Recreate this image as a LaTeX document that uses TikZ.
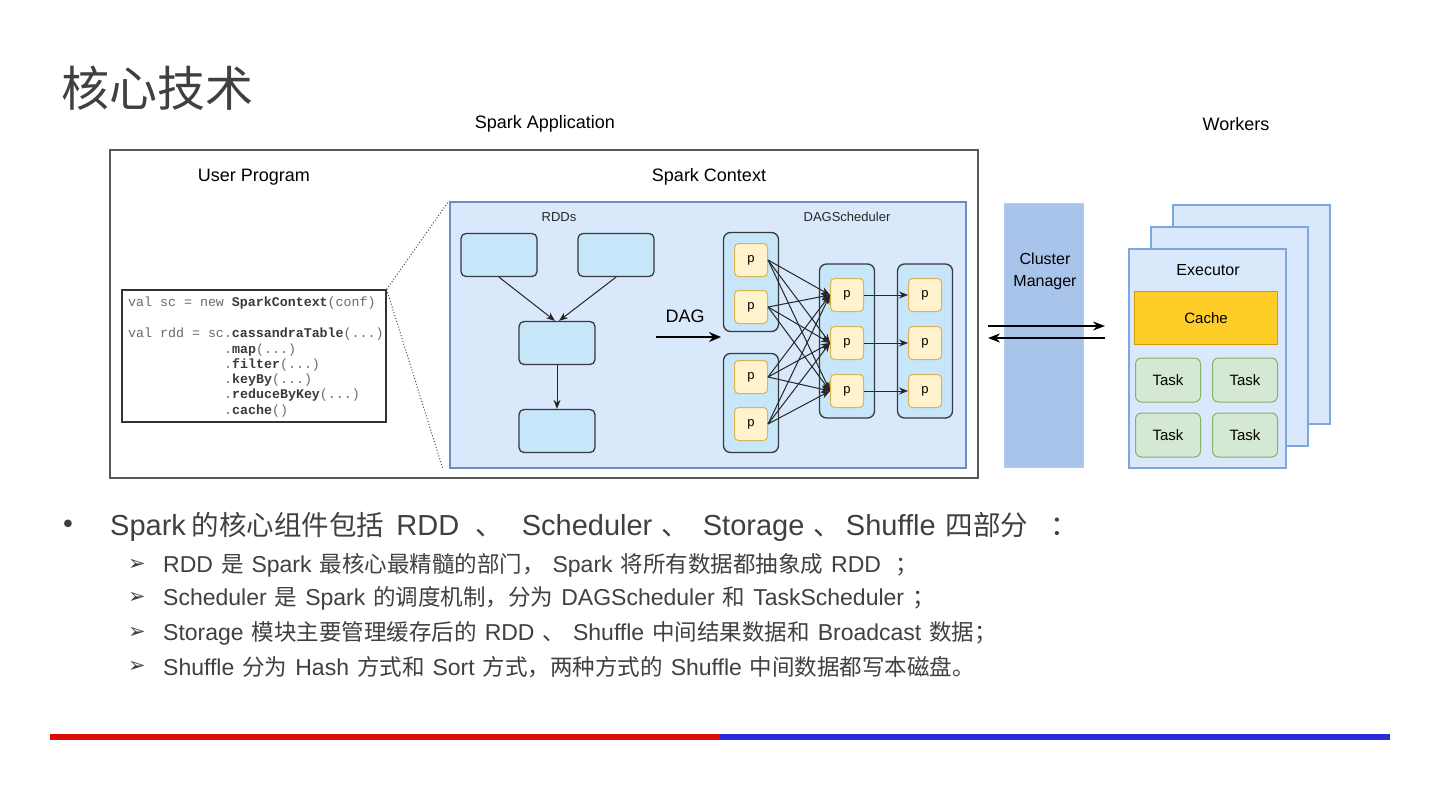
\documentclass[tikz,border=0pt]{standalone}
\usepackage{fontspec}
\setmainfont{Liberation Sans}
\setmonofont{Liberation Mono}
\newfontfamily\cjk{Noto Sans CJK SC}
\newfontfamily\dejavu{DejaVu Sans}
\usetikzlibrary{arrows.meta}
\definecolor{txtgray}{HTML}{404040}
\definecolor{ctxfill}{HTML}{DAE8FC}
\definecolor{ctxdraw}{HTML}{6C8EBF}
\definecolor{rddfill}{HTML}{C8E6FA}
\definecolor{darkline}{HTML}{36393D}
\definecolor{pfill}{HTML}{FFF2CC}
\definecolor{pdraw}{HTML}{D6B656}
\definecolor{cmfill}{HTML}{A9C4EB}
\definecolor{wkdraw}{HTML}{7EA6E0}
\definecolor{cachefill}{HTML}{FFCD28}
\definecolor{cachedraw}{HTML}{D79B00}
\definecolor{taskfill}{HTML}{D5E8D4}
\definecolor{taskdraw}{HTML}{82B366}
\definecolor{codegray}{HTML}{6A6A6A}
\definecolor{codedark}{HTML}{3A3A3A}
\definecolor{barred}{HTML}{DD0A0A}
\definecolor{barblue}{HTML}{2B2BD8}
\tikzset{
  lbl/.style={font=\fontsize{18}{20}\selectfont, text=black, inner sep=0pt},
  slbl/.style={font=\fontsize{13}{15}\selectfont, text=black!85, inner sep=0pt},
  rddbox/.style={draw=darkline, fill=rddfill, line width=1.3pt, rounded corners=5pt, minimum width=76pt, minimum height=43pt, inner sep=0pt},
  stagebox/.style={draw=darkline, fill=rddfill, line width=1.3pt, rounded corners=7pt, minimum width=55pt, inner sep=0pt},
  pbox/.style={draw=pdraw, fill=pfill, line width=1pt, rounded corners=4pt, minimum width=33pt, minimum height=33pt, inner sep=0pt, font=\fontsize{13}{15}\selectfont},
  arr/.style={-{Stealth[length=9pt,width=7pt]}, line width=1pt, draw=black!85},
  bigarr/.style={-{Stealth[length=12pt,width=10pt]}, line width=2.2pt},
  cmarr/.style={-{Stealth[length=12pt,width=9pt]}, line width=1.8pt},
  wkbox/.style={draw=wkdraw, fill=ctxfill, line width=2pt, minimum width=157pt, minimum height=219pt, inner sep=0pt},
  taskbox/.style={draw=taskdraw, fill=taskfill, line width=1pt, rounded corners=6pt, minimum width=65pt, minimum height=44pt, inner sep=0pt, font=\fontsize{15}{17}\selectfont},
  codeln/.style={anchor=west, inner sep=0pt, font=\ttfamily\fontsize{13.3}{15}\selectfont, text=codegray},
  dotln/.style={dotted, line width=1pt, draw=black!70},
  subln/.style={anchor=west, inner sep=0pt, text=txtgray, font=\fontsize{23}{26}\selectfont},
  subarrow/.style={anchor=center, inner sep=0pt, text=txtgray, font=\dejavu\fontsize{21}{24}\selectfont},
}
\newcommand{\cb}[1]{\textcolor{codedark}{\bfseries #1}}
\newcommand{\zhm}[1]{{\cjk\fontsize{27.5}{30}\selectfont #1}}
\newcommand{\zhs}[1]{{\cjk\fontsize{22.5}{26}\selectfont #1}}
\begin{document}
\begin{tikzpicture}[x=1pt,y=-1pt]
\useasboundingbox (0,0) rectangle (1440,809);
\fill[white] (0,0) rectangle (1440,809);

% title
\node[anchor=west, inner sep=0pt, text=txtgray, font=\cjk\fontsize{48}{52}\selectfont] (title) at (61,88) {核心技术};

% headers
\node[lbl] (appl) at (545,124) {Spark Application};
\node[lbl] (wkl) at (1236,124) {Workers};

% outer application frame
\node[draw=black!65, line width=2.5pt, fill=white, minimum width=868pt, minimum height=328pt, inner sep=0pt] (app) at (544,314) {};
\node[lbl] (upl) at (254,177) {User Program};
\node[lbl] (scl) at (709,177) {Spark Context};

% spark context
\node[draw=ctxdraw, fill=ctxfill, line width=2.2pt, minimum width=516pt, minimum height=266pt, inner sep=0pt] (ctx) at (708,335) {};

% code box
\node[draw=black!80, fill=white, line width=1.3pt, minimum width=264pt, minimum height=132pt, inner sep=0pt] (code) at (254,356) {};
\node[codeln] (c1) at (128,303) {val sc = new \cb{SparkContext}(conf)};
\node[codeln] (c2) at (128,334) {val rdd = sc.\cb{cassandraTable}(...)};
\node[codeln] (c3) at (224,350) {.\cb{map}(...)};
\node[codeln] (c4) at (224,365) {.\cb{filter}(...)};
\node[codeln] (c5) at (224,380) {.\cb{keyBy}(...)};
\node[codeln] (c6) at (224,395) {.\cb{reduceByKey}(...)};
\node[codeln] (c7) at (224,411) {.\cb{cache}()};
\draw[dotln] (code.north east) -- (ctx.north west);
\draw[dotln] (code.north east) -- ([xshift=-6pt]ctx.south west);

% RDDs
\node[slbl] (rddl) at (559,217) {RDDs};
\node[rddbox] (r1) at (499,255) {};
\node[rddbox] (r2) at (616,255) {};
\node[rddbox] (r3) at (557,343) {};
\node[rddbox] (r4) at (557,431) {};
\draw[arr] (r1.south) -- ([xshift=-2pt]r3.north);
\draw[arr] (r2.south) -- ([xshift=2pt]r3.north);
\draw[arr] (r3.south) -- (r4.north);

% DAG arrow
\node[lbl] (dagl) at (685,316) {DAG};
\coordinate (dagA) at (656,337);
\coordinate (dagB) at (721,337);
\draw[bigarr] (dagA) -- (dagB);

% DAGScheduler
\node[slbl] (dagsl) at (847,217) {DAGScheduler};
\node[stagebox, minimum height=99pt] (g1) at (751,282) {};
\node[stagebox, minimum height=99pt] (g2) at (751,403) {};
\node[stagebox, minimum height=154pt] (g3) at (847,341) {};
\node[stagebox, minimum height=154pt] (g4) at (925,341) {};
\node[pbox] (a1) at (751,260) {p};
\node[pbox] (a2) at (751,307) {p};
\node[pbox] (a3) at (751,377) {p};
\node[pbox] (a4) at (751,424) {p};
\node[pbox] (b1) at (847,295) {p};
\node[pbox] (b2) at (847,343) {p};
\node[pbox] (b3) at (847,391) {p};
\node[pbox] (d1) at (925,295) {p};
\node[pbox] (d2) at (925,343) {p};
\node[pbox] (d3) at (925,391) {p};
\foreach \s in {a1,a2,a3,a4}{
  \foreach \t in {b1,b2,b3}{
    \draw[arr] (\s.east) -- (\t.west);
  }
}
\draw[arr] (b1.east) -- (d1.west);
\draw[arr] (b2.east) -- (d2.west);
\draw[arr] (b3.east) -- (d3.west);

% cluster manager
\node[draw=cmfill!90!white, fill=cmfill, line width=1pt, minimum width=79pt, minimum height=264pt, inner sep=0pt] (cm) at (1044,335) {};
\node[inner sep=0pt, align=center, font=\fontsize{16}{22}\selectfont] (cml) at (1045,271) {Cluster\\Manager};
\coordinate (ca1) at (988,326);
\coordinate (cb1) at (1105,326);
\coordinate (ca2) at (1105,338);
\coordinate (cb2) at (988,338);
\draw[cmarr] (ca1) -- (cb1);
\draw[cmarr] (ca2) -- (cb2);

% workers
\node[wkbox] (w3) at (1251,314) {};
\node[wkbox] (w2) at (1229,336) {};
\node[wkbox] (w1) at (1207,358) {};
\node[inner sep=0pt, font=\fontsize{16}{18}\selectfont] (exl) at (1208,270) {Executor};
\node[draw=cachedraw, fill=cachefill, line width=1pt, minimum width=143pt, minimum height=53pt, inner sep=0pt, font=\fontsize{15}{17}\selectfont] (cache) at (1206,318) {Cache};
\node[taskbox] (t1) at (1168,380) {Task};
\node[taskbox] (t2) at (1245,380) {Task};
\node[taskbox] (t3) at (1168,435) {Task};
\node[taskbox] (t4) at (1245,435) {Task};

% bullet text
\node[anchor=center, inner sep=0pt, text=txtgray, font=\dejavu\fontsize{26}{28}\selectfont] (dot) at (68,527) {•};
\node[anchor=west, inner sep=0pt, text=txtgray, font=\fontsize{29}{32}\selectfont] (main) at (110,527) {Spark\hspace{6pt}\zhm{的核心组件包括}\hspace{12pt}RDD\hspace{16pt}\zhm{、}\hspace{19pt}Scheduler\hspace{9pt}\zhm{、}\hspace{14pt}Storage\hspace{9pt}\zhm{、}\hspace{5pt}Shuffle\hspace{10pt}\zhm{四部分}\hspace{22pt}\zhm{：}};

\node[subarrow] (m1) at (137,565) {➢};
\node[subln] (s1) at (163,565) {\spaceskip=8pt RDD \zhs{是} Spark \zhs{最核心最精髓的部门，} Spark \zhs{将所有数据都抽象成} RDD \hspace{6pt}\zhs{；}};
\node[subarrow] (m2) at (137,598) {➢};
\node[subln] (s2) at (163,598) {\spaceskip=8pt Scheduler \zhs{是} Spark \zhs{的调度机制，分为} DAGScheduler \zhs{和} TaskScheduler \zhs{；}};
\node[subarrow] (m3) at (137,633) {➢};
\node[subln] (s3) at (163,633) {\spaceskip=8pt Storage \zhs{模块主要管理缓存后的} RDD \zhs{、} Shuffle \zhs{中间结果数据和} Broadcast \zhs{数据；}};
\node[subarrow] (m4) at (137,667) {➢};
\node[subln] (s4) at (163,667) {\spaceskip=8pt Shuffle \zhs{分为} Hash \zhs{方式和} Sort \zhs{方式，两种方式的} Shuffle \zhs{中间数据都写本磁盘。}};

% bottom bar
\fill[barred] (50,734) rectangle (720,740);
\fill[barblue] (720,734) rectangle (1390,740);
\end{tikzpicture}
\end{document}
